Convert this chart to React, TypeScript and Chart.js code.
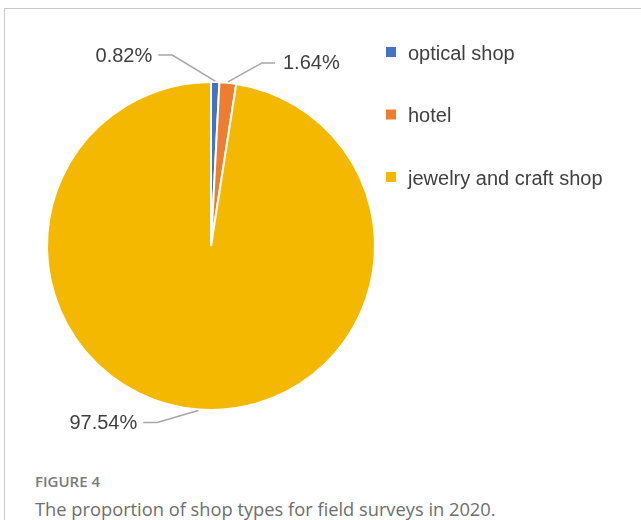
import React, { useEffect, useRef } from "react";
import { Chart, registerables } from "chart.js";

Chart.register(...registerables);

const categories = ["optical shop", "hotel", "jewelry and craft shop"];
const shares = [0.82, 1.64, 97.54];
const sliceColors = ["#4472C4", "#ED7D31", "#F5B800"];
const captionTitle = "FIGURE 4";
const captionText = "The proportion of shop types for field surveys in 2020.";

// per-slice leader layout: elbow offset (from anchor), horizontal run
const leaderLayout = [
  { dx: -43, dy: -26, run: -14 },
  { dx: 34, dy: -19, run: 13 },
  { dx: -41, dy: 12, run: -14 },
];

const labelPlugin = {
  id: "pieLabels",
  afterDraw(chart: any) {
    const ctx = chart.ctx;
    const meta = chart.getDatasetMeta(0);
    ctx.save();
    ctx.font = "20px 'Liberation Sans', Arial, sans-serif";
    ctx.textBaseline = "middle";
    meta.data.forEach((arc: any, i: number) => {
      const p = arc.getProps(["x", "y", "startAngle", "endAngle", "outerRadius"], true);
      const mid = (p.startAngle + p.endAngle) / 2;
      const r = p.outerRadius + 1;
      const ax = p.x + Math.cos(mid) * r;
      const ay = p.y + Math.sin(mid) * r;
      const L = leaderLayout[i];
      const ex = ax + L.dx;
      const ey = ay + L.dy;
      const hx = ex + L.run;
      ctx.strokeStyle = "#A6A6A6";
      ctx.lineWidth = 1.5;
      ctx.beginPath();
      ctx.moveTo(ax, ay);
      ctx.lineTo(ex, ey);
      ctx.lineTo(hx, ey);
      ctx.stroke();
      ctx.fillStyle = "#404040";
      const txt = shares[i].toFixed(2) + "%";
      if (L.run < 0) {
        ctx.textAlign = "right";
        ctx.fillText(txt, hx - 6, ey + 1);
      } else {
        ctx.textAlign = "left";
        ctx.fillText(txt, hx + 8, ey + 1);
      }
    });
    // legend
    const lx = 386;
    const ly0 = 53;
    const step = 62.5;
    ctx.textAlign = "left";
    categories.forEach((c, i) => {
      const y = ly0 + i * step;
      ctx.fillStyle = sliceColors[i];
      ctx.fillRect(lx, y - 6, 10, 10);
      ctx.fillStyle = "#404040";
      ctx.fillText(c, lx + 22, y + 1);
    });
    ctx.restore();
  },
};

export default function App() {
  const ref = useRef<HTMLCanvasElement>(null);
  useEffect(() => {
    if (!ref.current) return;
    const chart = new Chart(ref.current, {
      type: "pie",
      data: {
        labels: categories,
        datasets: [
          {
            data: shares,
            backgroundColor: sliceColors,
            borderColor: "#FFFFFF",
            borderWidth: 2,
          },
        ],
      },
      options: {
        responsive: false,
        animation: false,
        layout: { padding: { left: 46, right: 265, top: 81, bottom: 29 } },
        plugins: {
          legend: { display: false },
          tooltip: { enabled: false },
        },
      },
      plugins: [labelPlugin],
    });
    return () => chart.destroy();
  }, []);

  return (
    <div style={{ position: "absolute", left: 0, top: 0, width: 641, height: 520, overflow: "hidden", background: "#fff" }}>
      <div
        style={{
          position: "absolute",
          left: 4,
          top: 8,
          width: 700,
          height: 600,
          borderLeft: "1px solid #C8C8C8",
          borderTop: "1px solid #C8C8C8",
        }}
      />
      <canvas ref={ref} width={641} height={440} style={{ position: "absolute", left: 0, top: 0, width: 641, height: 440 }} />
      <div
        style={{
          position: "absolute",
          left: 35,
          top: 471,
          fontFamily: "'Open Sans', sans-serif",
          fontSize: 15,
          fontWeight: 600,
          color: "#7A7A7A",
          lineHeight: "20px",
        }}
      >
        {captionTitle}
      </div>
      <div
        style={{
          position: "absolute",
          left: 35,
          top: 497,
          fontFamily: "'Open Sans', sans-serif",
          fontSize: 18.3,
          color: "#6E6E6E",
          lineHeight: "24px",
          whiteSpace: "nowrap",
        }}
      >
        {captionText}
      </div>
    </div>
  );
}
